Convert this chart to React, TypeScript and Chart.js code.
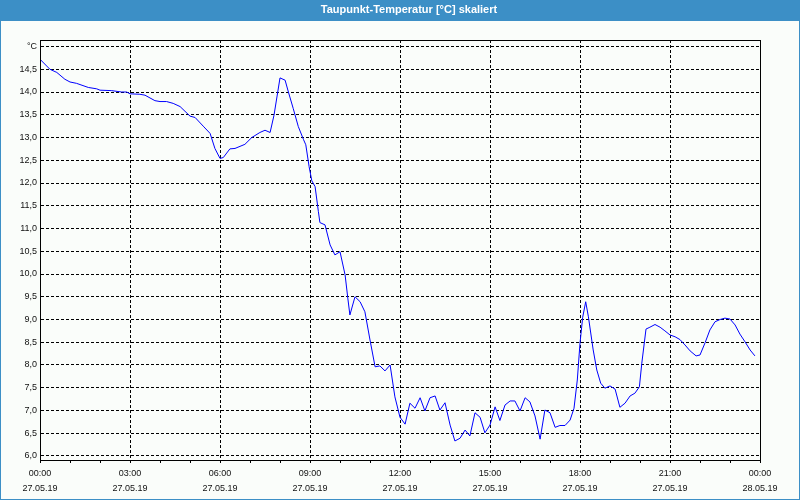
import React, { useEffect, useRef } from 'react';
import { Chart, registerables } from 'chart.js';

Chart.register(...registerables);

const TITLE = 'Taupunkt-Temperatur [°C] skaliert';
const UNIT_LABEL = '°C';

// time of day in hours (27.05.19 00:00 = 0)
const hours = [
  0.0, 0.33, 0.56, 0.83, 1.0, 1.22, 1.61, 1.89, 2.0, 2.39, 2.72, 2.89,
  3.0, 3.33, 3.5, 3.83, 4.0, 4.22, 4.44, 4.67, 5.0, 5.17, 5.44, 5.67, 5.83,
  6.0, 6.11, 6.33, 6.5, 6.83, 7.06, 7.33, 7.5, 7.67, 7.8, 8.0, 8.17, 8.28,
  8.44, 8.61, 8.78, 8.86, 8.97, 9.06, 9.17, 9.28, 9.33, 9.5, 9.67, 9.83,
  10.0, 10.17, 10.26, 10.33, 10.5, 10.67, 10.83, 11.0, 11.17, 11.33, 11.5,
  11.67, 11.83, 12.0, 12.17, 12.33, 12.5, 12.67, 12.83, 13.0, 13.17, 13.33,
  13.5, 13.67, 13.83, 14.0, 14.17, 14.33, 14.5, 14.67, 14.83, 15.0, 15.17,
  15.33, 15.5, 15.67, 15.83, 16.0, 16.17, 16.33, 16.5, 16.67, 16.83, 17.0,
  17.17, 17.33, 17.5, 17.67, 17.8, 17.91, 18.0, 18.09, 18.19, 18.28, 18.44,
  18.56, 18.69, 18.83, 19.0, 19.17, 19.33, 19.5, 19.67, 19.83, 19.98, 20.06,
  20.2, 20.33, 20.5, 20.67, 20.83, 21.0, 21.17, 21.33, 21.5, 21.67, 21.87,
  22.0, 22.17, 22.33, 22.5, 22.67, 22.83, 23.0, 23.17, 23.33, 23.5, 23.67,
  23.83,
];

// dew point temperature, °C
const dewPoint = [
  14.72, 14.5, 14.43, 14.28, 14.22, 14.19, 14.1, 14.07, 14.04, 14.03, 14.0, 14.0,
  13.96, 13.95, 13.93, 13.81, 13.79, 13.79, 13.75, 13.68, 13.47, 13.44, 13.25, 13.09, 12.76,
  12.54, 12.56, 12.75, 12.76, 12.85, 13.0, 13.11, 13.16, 13.11, 13.49, 14.31, 14.26, 14.0,
  13.64, 13.24, 12.96, 12.84, 12.36, 12.05, 11.92, 11.37, 11.13, 11.08, 10.64, 10.42,
  10.49, 9.98, 9.47, 9.1, 9.5, 9.39, 9.17, 8.55, 7.96, 7.98, 7.87,
  8.0, 7.3, 6.85, 6.7, 7.16, 7.05, 7.28, 6.99, 7.28, 7.32, 7.01,
  7.17, 6.68, 6.33, 6.39, 6.57, 6.44, 6.95, 6.85, 6.51, 6.68, 7.08,
  6.78, 7.12, 7.21, 7.21, 6.99, 7.28, 7.19, 6.88, 6.37, 7.01, 6.95,
  6.63, 6.67, 6.67, 6.79, 7.05, 7.67, 8.48, 9.05, 9.39, 9.06, 8.33,
  7.89, 7.6, 7.49, 7.54, 7.47, 7.07, 7.16, 7.32, 7.38, 7.52, 8.04,
  8.79, 8.83, 8.89, 8.83, 8.75, 8.66, 8.62, 8.56, 8.44, 8.31, 8.2,
  8.22, 8.49, 8.77, 8.95, 9.0, 9.03, 9.01, 8.88, 8.68, 8.51, 8.33,
  8.2,
];

const yTickValues = [6.0, 6.5, 7.0, 7.5, 8.0, 8.5, 9.0, 9.5, 10.0, 10.5, 11.0, 11.5, 12.0, 12.5, 13.0, 13.5, 14.0, 14.5, 15.0];
const xMajorHours = [0, 3, 6, 9, 12, 15, 18, 21, 24];
const xTimeLabels = ['00:00', '03:00', '06:00', '09:00', '12:00', '15:00', '18:00', '21:00', '00:00'];
const xDateLabels = ['27.05.19', '27.05.19', '27.05.19', '27.05.19', '27.05.19', '27.05.19', '27.05.19', '27.05.19', '28.05.19'];

const BLUE = '#3c8fc6';
const BG = '#fafdfa';
const FONT = 'Liberation Sans';

export default function App() {
  const ref = useRef<HTMLCanvasElement>(null);

  useEffect(() => {
    const canvas = ref.current;
    if (!canvas) return;

    const frame = {
      id: 'frame',
      beforeDraw(chart: any) {
        const { ctx, width, height } = chart;
        ctx.save();
        ctx.fillStyle = BG;
        ctx.fillRect(0, 0, width, height);
        ctx.fillStyle = BLUE;
        ctx.fillRect(0, 0, width, 21);
        ctx.fillRect(0, 0, 1, height);
        ctx.fillRect(width - 1, 0, 1, height);
        ctx.fillRect(0, height - 1, width, 1);
        ctx.fillStyle = '#ffffff';
        ctx.font = `bold 11px "${FONT}"`;
        ctx.textAlign = 'center';
        ctx.textBaseline = 'middle';
        ctx.fillText(TITLE, 409, 10);
        ctx.restore();
      },
      afterDraw(chart: any) {
        const { ctx, chartArea: a } = chart;
        ctx.save();
        ctx.strokeStyle = '#000';
        ctx.lineWidth = 1;
        ctx.setLineDash([]);
        ctx.strokeRect(Math.round(a.left) + 0.5, Math.round(a.top) + 0.5, Math.round(a.right - a.left), Math.round(a.bottom - a.top));
        ctx.restore();
      },
    };

    const chart = new Chart(canvas, {
      type: 'line',
      data: {
        datasets: [
          {
            data: hours.map((h, i) => ({ x: h, y: dewPoint[i] })),
            borderColor: '#0000ff',
            borderWidth: 1,
            pointRadius: 0,
            tension: 0,
            fill: false,
          },
        ],
      },
      options: {
        animation: false,
        responsive: false,
        devicePixelRatio: 1,
        layout: { padding: { left: 0, right: 40, top: 40, bottom: 0 } },
        plugins: {
          legend: { display: false },
          title: { display: false },
          tooltip: { enabled: false },
        },
        scales: {
          x: {
            type: 'linear',
            min: 0,
            max: 24,
            afterBuildTicks: (scale: any) => {
              const t = [];
              for (let h = 0; h <= 24; h++) t.push({ value: h });
              scale.ticks = t;
            },
            afterFit: (scale: any) => {
              scale.height = 40;
            },
            grid: {
              color: (c: any) => {
                const v = c.tick ? c.tick.value : -1;
                return v % 3 === 0 && v !== 0 && v !== 24 ? '#000' : 'rgba(0,0,0,0)';
              },
              tickColor: '#000',
              tickLength: 3,
              lineWidth: 1,
              drawTicks: true,
            },
            border: { display: true, color: '#000', width: 1, dash: [3, 2] },
            ticks: {
              autoSkip: false,
              maxRotation: 0,
              minRotation: 0,
              padding: 3,
              color: '#111',
              font: { family: FONT, size: 9, lineHeight: 15 / 9 },
              callback: (value: any) => {
                const i = xMajorHours.indexOf(Number(value));
                return i >= 0 ? [xTimeLabels[i], xDateLabels[i]] : '';
              },
            },
          },
          y: {
            type: 'linear',
            min: 5.912,
            max: 15.143,
            afterBuildTicks: (scale: any) => {
              scale.ticks = yTickValues.map((v) => ({ value: v }));
            },
            afterFit: (scale: any) => {
              scale.width = 40;
            },
            grid: {
              color: '#000',
              lineWidth: 1,
              drawTicks: false,
            },
            border: { display: true, color: '#000', width: 1, dash: [3, 2] },
            ticks: {
              padding: 3,
              color: '#111',
              font: { family: FONT, size: 9, lineHeight: 1.2 },
              callback: (value: any) => {
                const v = Number(value);
                if (v === 15) return UNIT_LABEL;
                return v.toFixed(1).replace('.', ',');
              },
            },
          },
        },
      },
      plugins: [frame],
    } as any);

    return () => {
      chart.destroy();
    };
  }, []);

  return (
    <div style={{ position: 'absolute', left: 0, top: 0, width: 800, height: 500 }}>
      <canvas ref={ref} width={800} height={500} style={{ display: 'block', width: 800, height: 500 }} />
    </div>
  );
}
